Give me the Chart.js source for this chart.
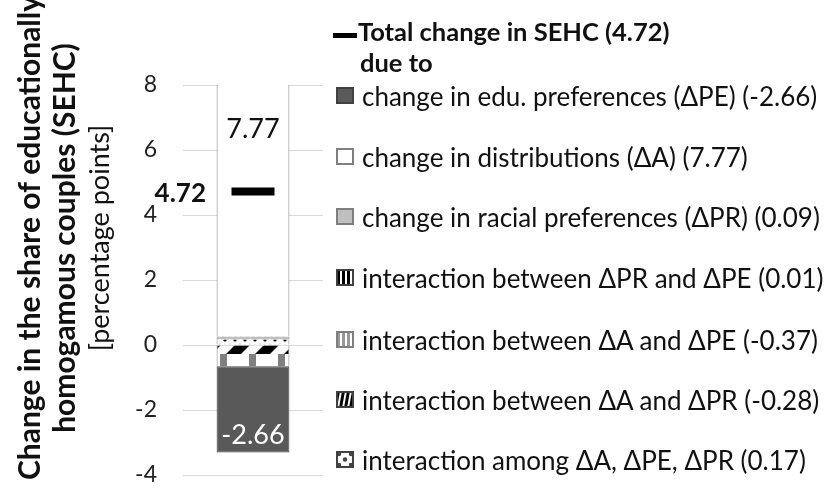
<!DOCTYPE html>
<html>
<head>
<meta charset="utf-8">
<script src="https://cdn.jsdelivr.net/npm/chart.js@4.4.0/dist/chart.umd.min.js"></script>
<style>
html, body { margin: 0; padding: 0; background: #fff; }
#wrap { position: relative; width: 830px; height: 493px; overflow: hidden; font-family: Lato, 'Noto Sans', sans-serif; color: #111; }
#chart { position: absolute; left: 0; top: 0; }
.row { position: absolute; left: 336px; height: 30px; line-height: 30px; font-size: 26px; white-space: nowrap; }
.row canvas { position: absolute; left: 0; top: 6px; }
.row span { position: absolute; left: 26px; top: 0; }
.head { position: absolute; height: 30px; line-height: 30px; font-size: 25.5px; font-weight: bold; white-space: nowrap; }
</style>
</head>
<body>
<div id="wrap">
  <canvas id="chart" width="830" height="493"></canvas>
  <div id="legend"></div>
</div>
<script>
// data
const categories = ['SEHC'];
const seriesLabels = [
    'change in edu. preferences (ΔPE) (-2.66)',
    'change in distributions (ΔA) (7.77)',
    'change in racial preferences (ΔPR) (0.09)',
    'interaction between ΔPR and ΔPE (0.01)',
    'interaction between ΔA and ΔPE (-0.37)',
    'interaction between ΔA and ΔPR (-0.28)',
    'interaction among ΔA, ΔPE, ΔPR (0.17)'
];
const seriesValues = [-2.66, 7.77, 0.09, 0.01, -0.37, -0.28, 0.17];
const totalLabel = 'Total change in SEHC (4.72)';
const totalValues = [4.72];
const yTicks = [-4, -2, 0, 2, 4, 6, 8];
// order of the pieces inside the stacked bar, from zero outwards
const stackOrder = [6, 2, 3, 1, 5, 4, 0];

// start: patterns
function tile(w, h, draw) {
    var c = document.createElement('canvas');
    c.width = w; c.height = h;
    var g = c.getContext('2d');
    g.fillStyle = '#fff';
    g.fillRect(0, 0, w, h);
    draw(g, w, h);
    return c;
}

var ctxMain = document.getElementById('chart').getContext('2d');

function barFill(i) {
    if (i === 0) return '#595959';
    if (i === 1) return '#ffffff';
    if (i === 2) return '#bfbfbf';
    var c;
    if (i === 3) {
        c = tile(6, 2, function(g) { g.fillStyle = '#000'; g.fillRect(0, 0, 3, 2); });
    } else if (i === 4) {
        c = tile(29, 2, function(g) { g.fillStyle = '#808080'; g.fillRect(17, 0, 7, 2); });
    } else if (i === 5) {
        c = tile(29, 29, function(g) {
            g.fillStyle = '#000';
            for (var k = -1; k <= 1; k++) {
                var o = k * 29;
                g.beginPath();
                g.moveTo(o + 0, 29); g.lineTo(o + 15, 29);
                g.lineTo(o + 44, 0); g.lineTo(o + 29, 0);
                g.closePath(); g.fill();
            }
        });
    } else {
        c = tile(10, 6, function(g) {
            g.strokeStyle = '#999'; g.lineWidth = 1;
            g.beginPath(); g.moveTo(0, 2); g.quadraticCurveTo(5, 6, 10, 2); g.stroke();
            g.fillStyle = '#000';
            g.beginPath(); g.arc(5, 4, 1.6, 0, Math.PI * 2); g.fill();
        });
    }
    return ctxMain.createPattern(c, 'repeat');
}

function drawIcon(cv, i) {
    var g = cv.getContext('2d');
    var w = cv.width, h = cv.height;
    g.fillStyle = '#fff';
    g.fillRect(0, 0, w, h);
    if (i === 0) { g.fillStyle = '#595959'; g.fillRect(0, 0, w, h); }
    if (i === 2) { g.fillStyle = '#bfbfbf'; g.fillRect(0, 0, w, h); }
    if (i === 3) { g.fillStyle = '#000'; for (var x = 1; x < w; x += 5) g.fillRect(x, 0, 3, h); }
    if (i === 4) { g.fillStyle = '#999'; for (var x = 1; x < w; x += 5) g.fillRect(x, 0, 3, h); }
    if (i === 5) {
        g.fillStyle = '#000';
        for (var x = 0; x < w + 4; x += 5) {
            g.beginPath();
            g.moveTo(x - 2, h); g.lineTo(x + 1, h); g.lineTo(x + 4, 0); g.lineTo(x + 1, 0);
            g.closePath(); g.fill();
        }
    }
    if (i === 6) {
        g.fillStyle = '#444';
        [[3, 3], [w - 3, 3], [w / 2, h / 2], [3, h - 3], [w - 3, h - 3]].forEach(function(p) {
            g.beginPath(); g.arc(p[0], p[1], 2.2, 0, Math.PI * 2); g.fill();
        });
    }
    g.strokeStyle = (i === 1 || i === 2 || i === 4) ? '#7f7f7f' : '#404040';
    g.lineWidth = 2;
    g.strokeRect(1, 1, w - 2, h - 2);
}
// end: patterns

// start: legend
var legend = document.getElementById('legend');
var rowCenters = [96, 157, 217, 278, 340, 400, 460];

var head = document.createElement('div');
head.className = 'head';
head.style.left = '333px';
head.style.top = (31 - 15) + 'px';
head.innerHTML = '<span style="display:inline-block;width:24px;height:5px;background:#000;vertical-align:middle;margin-right:1px;position:relative;top:1px"></span>' + totalLabel;
legend.appendChild(head);

var due = document.createElement('div');
due.className = 'head';
due.style.left = '360px';
due.style.top = (62 - 15) + 'px';
due.textContent = 'due to';
legend.appendChild(due);

seriesLabels.forEach(function(lbl, i) {
    var row = document.createElement('div');
    row.className = 'row';
    row.style.top = (rowCenters[i] - 15) + 'px';
    var cv = document.createElement('canvas');
    cv.width = 18; cv.height = 17;
    drawIcon(cv, i);
    var sp = document.createElement('span');
    sp.textContent = lbl;
    row.appendChild(cv);
    row.appendChild(sp);
    legend.appendChild(row);
});
// end: legend

// start: chart
var barDatasets = stackOrder.map(function(i) {
    return {
        type: 'bar',
        label: seriesLabels[i],
        data: [seriesValues[i]],
        backgroundColor: barFill(i),
        borderColor: i === 0 ? '#404040' : '#7f7f7f',
        borderWidth: i === 1 ? { top: 1, left: 1, right: 1, bottom: 0 } :
                     i === 0 ? 1 : { left: 1, right: 1, top: 0, bottom: 0 },
        borderSkipped: false,
        stack: 'parts',
        categoryPercentage: 1,
        barPercentage: 0.52
    };
});

var valueLabels = {
    id: 'valueLabels',
    afterDatasetsDraw: function(chart) {
        var c = chart.ctx;
        c.save();
        chart.data.datasets.forEach(function(ds, di) {
            var el = chart.getDatasetMeta(di).data[0];
            if (!el) return;
            if (ds.label === seriesLabels[1]) {
                c.font = '27px Lato, "Noto Sans", sans-serif';
                c.fillStyle = '#111';
                c.textAlign = 'center'; c.textBaseline = 'middle';
                c.fillText(seriesValues[1].toFixed(2), el.x, el.y + 46);
            }
            if (ds.label === seriesLabels[0]) {
                c.font = '27px Lato, "Noto Sans", sans-serif';
                c.fillStyle = '#fff';
                c.textAlign = 'center'; c.textBaseline = 'middle';
                c.fillText(seriesValues[0].toFixed(2), el.x, el.y - 17);
            }
            if (ds.label === totalLabel) {
                c.font = 'bold 26px Lato, "Noto Sans", sans-serif';
                c.fillStyle = '#111';
                c.textAlign = 'right'; c.textBaseline = 'middle';
                c.fillText(totalValues[0].toFixed(2), el.x - 47, el.y + 2);
            }
        });
        c.restore();
    }
};

var axisTitle = {
    id: 'axisTitle',
    afterDraw: function(chart) {
        var c = chart.ctx;
        var cy = 238;
        c.save();
        c.fillStyle = '#111';
        c.textAlign = 'center'; c.textBaseline = 'middle';
        c.translate(0, cy);
        c.rotate(-Math.PI / 2);
        c.font = 'bold 30px Lato, "Noto Sans", sans-serif';
        c.fillText('Change in the share of educationally', 0, 30);
        c.fillText('homogamous couples (SEHC)', 0, 65);
        c.font = '27px Lato, "Noto Sans", sans-serif';
        c.fillText('[percentage points]', 0, 100);
        c.restore();
    }
};

var chart = new Chart(ctxMain, {
    data: {
        labels: categories,
        datasets: barDatasets.concat([{
            type: 'line',
            label: totalLabel,
            data: totalValues,
            stack: 'total',
            order: -1,
            showLine: false,
            pointStyle: 'line',
            pointRadius: 21.5,
            pointBorderWidth: 8,
            pointBorderColor: '#000',
            pointBackgroundColor: '#000',
            borderColor: '#000'
        }])
    },
    options: {
        responsive: false,
        animation: false,
        events: [],
        layout: { autoPadding: false, padding: { left: 0, right: 507, top: 85, bottom: 18 } },
        plugins: { legend: { display: false }, tooltip: { enabled: false } },
        scales: {
            x: { display: false, stacked: true, offset: true },
            y: {
                stacked: true,
                min: -4,
                max: 8,
                afterBuildTicks: function(scale) {
                    scale.ticks = yTicks.map(function(v) { return { value: v }; });
                },
                afterFit: function(scale) { scale.width = 183; },
                border: { display: false },
                grid: { color: '#d9d9d9', lineWidth: 1, drawTicks: true, tickLength: 26, tickColor: 'rgba(0,0,0,0)' },
                ticks: {
                    padding: 0,
                    color: '#222',
                    font: { family: 'Lato, "Noto Sans", sans-serif', size: 23 }
                }
            }
        }
    },
    plugins: [valueLabels, axisTitle]
});
// end: chart
</script>
</body>
</html>
